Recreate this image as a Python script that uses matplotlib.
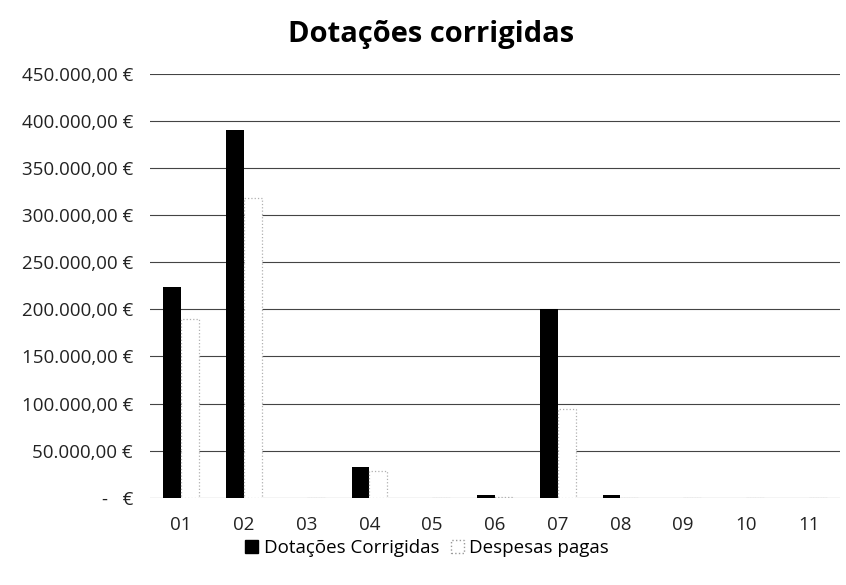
import numpy as np
import matplotlib.pyplot as plt
from matplotlib.ticker import FuncFormatter
from matplotlib.patches import Patch

plt.rcParams['font.family'] = ['Open Sans', 'DejaVu Sans']

# Data
categories = ['01', '02', '03', '04', '05', '06', '07', '08', '09', '10', '11']
dotacoes = [224000, 390000, 0, 33000, 0, 3000, 200000, 2500, 0, 0, 0]
despesas = [190000, 318000, 0, 28500, 0, 1000, 94500, 0, 0, 0, 0]

def euro(v, pos):
    if v == 0:
        return '-   €'
    s = f"{v:,.2f}".replace(',', 'X').replace('.', ',').replace('X', '.')
    return s + ' €'

fig = plt.figure(figsize=(8.46, 5.85), dpi=100)
ax = fig.add_axes([0.177, 0.149, 0.816, 0.725])

x = np.arange(len(categories))
w = 0.285
ax.bar(x - w / 2, dotacoes, w, color='black', zorder=3)
ax.bar(x + w / 2, despesas, w, color='white', edgecolor='#b0b0b0',
       linestyle=':', linewidth=0.9, zorder=3)

ax.set_xlim(-0.5, len(categories) - 0.5)
ax.set_ylim(0, 450000)
ax.set_yticks(np.arange(0, 450001, 50000))
ax.yaxis.set_major_formatter(FuncFormatter(euro))
ax.set_xticks(x)
ax.set_xticklabels(categories)
ax.tick_params(axis='both', length=0, labelsize=13.5, colors='#222222')
ax.tick_params(axis='y', pad=12)
ax.tick_params(axis='x', pad=13)
ax.grid(axis='y', color='#444444', linewidth=0.8, zorder=0)
for s in ax.spines.values():
    s.set_visible(False)

fig.suptitle('Dotações corrigidas', x=0.51, y=0.965, fontsize=21, fontweight='bold')

handles = [Patch(facecolor='black', edgecolor='black', label='Dotações Corrigidas'),
           Patch(facecolor='white', edgecolor='#999999', linestyle=':', label='Despesas pagas')]
fig.legend(handles=handles, loc='center', bbox_to_anchor=(0.505, 0.063), ncol=2,
           frameon=False, fontsize=13.5, handlelength=0.7, handleheight=0.7,
           handletextpad=0.3, columnspacing=0.6)

fig.savefig('out.png', dpi=100)
